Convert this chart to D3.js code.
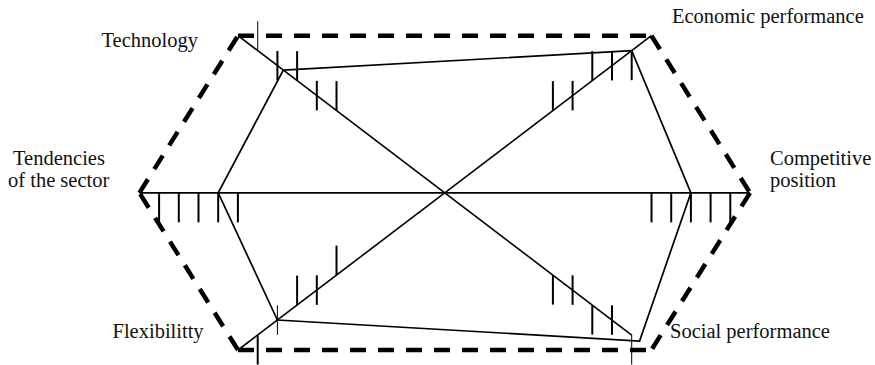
<!DOCTYPE html>
<html><head><meta charset="utf-8">
<script src="https://cdn.jsdelivr.net/npm/d3@7"></script>
<style>html,body{margin:0;padding:0;background:#fff;} svg{display:block}
.lbl{font-family:"Liberation Serif","Tinos","Times New Roman","DejaVu Serif",serif;font-size:20.5px;fill:#111;}</style>
</head><body><svg id="chart" width="875" height="365"></svg>
<script>
// ---------- data ----------
const axisNames = ["Technology", "Economic performance", "Competitive position",
                   "Social performance", "Flexibilitty", "Tendencies of the sector"];
const scores = [2.3, 1, 3, 0.6, 2, 4];          // level read on each axis (0 = outer hexagon)
const tickLevels = [1, 2, 3, 4, 5];

// ---------- layout ----------
const W = 875, H = 365;
const x = d3.scaleLinear().domain([-1, 1]).range([139.4, 750]);
const y = d3.scaleLinear().domain([-1, 1]).range([350, 35.7]);
const cornerX = 0.677;
const unitCorners = [[-cornerX, 1], [cornerX, 1], [1, 0], [cornerX, -1], [-cornerX, -1], [-1, 0]];
const levelToDx = d3.scaleLinear().domain([0, 5]).range([0, 98.5]);
const tickLen = 29.5;
const anchorOffset = {above: -tickLen, mid: -tickLen / 2, below: 0};
const tickAnchors = [
  ["above", "mid", "above", "mid", "above"],
  ["below", "mid", "above", "mid", "above"],
  ["below", "below", "below", "below", "below"],
  ["below", "mid", "below", "mid", "below"],
  ["below", "mid", "above", "mid", "above"],
  ["below", "below", "below", "below", "below"]
];
const thinTicks = [[0, 1], [3, 1], [4, 2]];
const labelLayout = [
  {lines: ["Technology"], x: 101.5, y: 47},
  {lines: ["Economic performance"], x: 672, y: 23},
  {lines: ["Competitive", "position"], x: 770, y: 165},
  {lines: ["Social performance"], x: 670, y: 338},
  {lines: ["Flexibilitty"], x: 112.5, y: 338},
  {lines: ["Tendencies", "of the sector"], x: [13, 8], y: 165}
];
const lineGap = 22;

const svg = d3.select("#chart");
const cx = x(0), cy = y(0);
const cornerPx = i => [x(unitCorners[i][0]), y(unitCorners[i][1])];
function pointAt(i, level) {
  const c = cornerPx(i);
  const f = levelToDx(level) / Math.abs(c[0] - cx);
  return [c[0] + (cx - c[0]) * f, c[1] + (cy - c[1]) * f];
}

// dashed outer hexagon
const edges = [[0, 1], [1, 2], [2, 3], [4, 3], [4, 5], [5, 0]];
svg.append("g").selectAll("line").data(edges).join("line")
  .attr("x1", d => cornerPx(d[0])[0]).attr("y1", d => cornerPx(d[0])[1])
  .attr("x2", d => cornerPx(d[1])[0]).attr("y2", d => cornerPx(d[1])[1])
  .attr("stroke", "#000").attr("stroke-width", 4.5)
  .attr("stroke-dasharray", "16,12");

// axes through centre
const axisLines = [
  [cornerPx(5), cornerPx(2)],
  [cornerPx(0), pointAt(3, 1)],
  [cornerPx(1), cornerPx(4)]
];
svg.append("g").selectAll("line").data(axisLines).join("line")
  .attr("x1", d => d[0][0]).attr("y1", d => d[0][1])
  .attr("x2", d => d[1][0]).attr("y2", d => d[1][1])
  .attr("stroke", "#000").attr("stroke-width", 1.6);

// tick marks
const ticks = [];
axisNames.forEach((n, i) => tickLevels.forEach((lv, k) => {
  const p = pointAt(i, lv);
  const off = anchorOffset[tickAnchors[i][k]];
  const thin = thinTicks.some(t => t[0] === i && t[1] === lv);
  ticks.push({x: p[0], y1: p[1] + off, y2: p[1] + off + tickLen, thin});
}));
svg.append("g").selectAll("line").data(ticks).join("line")
  .attr("x1", d => d.x).attr("x2", d => d.x)
  .attr("y1", d => d.y1).attr("y2", d => d.y2)
  .attr("stroke", "#000").attr("stroke-width", d => d.thin ? 1 : 2);

// score polygon
const poly = scores.map((s, i) => pointAt(i, s));
svg.append("path")
  .attr("d", d3.line()(poly) + "Z")
  .attr("fill", "none").attr("stroke", "#000").attr("stroke-width", 1.7)
  .attr("stroke-linejoin", "miter");

// labels
const lg = svg.append("g");
labelLayout.forEach((L, i) => {
  L.lines.forEach((t, j) => {
    lg.append("text").attr("class", "lbl")
      .attr("x", Array.isArray(L.x) ? L.x[j] : L.x)
      .attr("y", L.y + j * lineGap)
      .text(t);
  });
});
</script>
</body></html>
